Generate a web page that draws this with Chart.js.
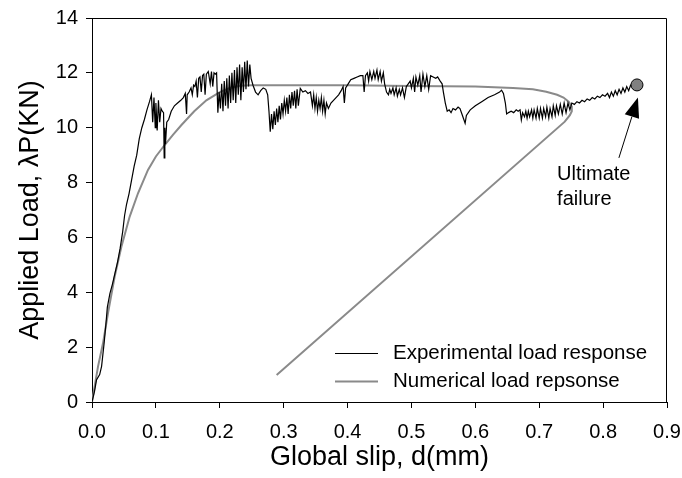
<!DOCTYPE html>
<html>
<head>
<meta charset="utf-8">
<script src="https://cdn.jsdelivr.net/npm/chart.js@4.4.0/dist/chart.umd.min.js"></script>
<style>
  html, body { margin: 0; padding: 0; background: #fff; }
  #wrap { width: 682px; height: 478px; }
</style>
</head>
<body>
<div id="wrap"><canvas id="slipChart" width="682" height="478"></canvas></div>
<script>
var expSlip = [0, 0.004, 0.007, 0.012, 0.015, 0.019, 0.022, 0.024, 0.028, 0.032, 0.036, 0.040, 0.044, 0.048, 0.051, 0.054, 0.058, 0.062, 0.066, 0.070, 0.074, 0.078, 0.082, 0.086, 0.090, 0.093,
  0.095, 0.097, 0.099, 0.100, 0.102, 0.104, 0.106, 0.108, 0.110, 0.112, 0.113, 0.114, 0.115, 0.117, 0.120, 0.124, 0.129, 0.134, 0.139, 0.143, 0.146, 0.148, 0.149, 0.152, 0.155, 0.157, 0.159, 0.161, 0.163, 0.165, 0.167, 0.169, 0.171, 0.173, 0.175, 0.177, 0.179, 0.182, 0.185, 0.187, 0.189, 0.191, 0.193, 0.195, 0.197,
  0.199, 0.201, 0.203, 0.205, 0.207, 0.209, 0.211, 0.213, 0.215, 0.217, 0.219, 0.221, 0.223, 0.225, 0.227, 0.229, 0.231, 0.233, 0.235, 0.237, 0.239, 0.241, 0.243, 0.245, 0.247, 0.249, 0.252, 0.256, 0.260, 0.264, 0.268, 0.272, 0.275, 0.277, 0.279,
  0.281, 0.283, 0.285, 0.287, 0.289, 0.291, 0.293, 0.295, 0.297, 0.299, 0.301, 0.303, 0.305, 0.307, 0.309, 0.311, 0.313, 0.315, 0.317, 0.319, 0.321, 0.323, 0.326, 0.330, 0.334, 0.338, 0.342,
  0.345, 0.347, 0.349, 0.351, 0.353, 0.355, 0.357, 0.359, 0.361, 0.363, 0.365, 0.367, 0.370, 0.374, 0.378, 0.382, 0.386, 0.390, 0.393, 0.395, 0.397, 0.401, 0.405, 0.410, 0.415, 0.420, 0.424, 0.426, 0.428,
  0.431, 0.433, 0.435, 0.438, 0.441, 0.443, 0.446, 0.448, 0.451, 0.453, 0.456, 0.458, 0.461, 0.464, 0.466, 0.468, 0.471, 0.473, 0.476, 0.478, 0.481, 0.483, 0.486, 0.489, 0.492, 0.495, 0.498,
  0.500, 0.503, 0.505, 0.507, 0.510, 0.513, 0.515, 0.518, 0.521, 0.524, 0.527, 0.530, 0.534, 0.538, 0.541, 0.545, 0.548, 0.550, 0.553, 0.556, 0.559, 0.562, 0.565, 0.569, 0.573, 0.576, 0.579, 0.582, 0.584, 0.586,
  0.592, 0.600, 0.610, 0.620, 0.630, 0.638, 0.641, 0.644, 0.647, 0.649, 0.652, 0.656, 0.660, 0.664, 0.667, 0.670, 0.672, 0.674, 0.677, 0.679, 0.681, 0.683, 0.685, 0.688, 0.690, 0.692, 0.695, 0.697,
  0.700, 0.702, 0.705, 0.707, 0.710, 0.712, 0.715, 0.717, 0.720, 0.722, 0.725, 0.727, 0.730, 0.733, 0.736, 0.739, 0.742, 0.745, 0.748, 0.751, 0.755, 0.759, 0.763, 0.767, 0.771, 0.775, 0.779,
  0.783, 0.787, 0.791, 0.795, 0.799, 0.803, 0.807, 0.810, 0.813, 0.816, 0.819, 0.822, 0.825, 0.828, 0.831, 0.834, 0.837, 0.840, 0.843, 0.847, 0.852];
var expLoad = [0, 0.4, 0.8, 1.0, 1.3, 2.15, 2.9, 3.45, 3.95, 4.3, 4.7, 5.1, 5.6, 6.2, 6.8, 7.2, 7.6, 8.1, 8.6, 9.0, 9.6, 10.0, 10.3, 10.65, 10.95, 11.2,
  10.2, 11.1, 10.0, 10.9, 9.9, 11.0, 10.2, 10.7, 10.6, 10.55, 8.9, 10.0, 9.4, 10.2, 10.3, 10.6, 10.8, 10.9, 11.0, 11.1, 11.25, 10.5, 11.2, 11.3, 11.45, 11.2, 11.55, 11.5, 11.7, 11.1, 11.8, 11.85, 11.3, 11.9, 11.95, 11.2, 11.95, 12.05, 11.6, 12.05, 11.5, 12.0, 11.95, 12.0, 10.55,
  11.3, 10.7, 11.6, 10.6, 11.7, 10.8, 11.8, 10.7, 11.9, 10.9, 12.0, 11.0, 12.1, 10.9, 12.2, 11.2, 12.3, 11.0, 12.2, 11.3, 12.4, 11.4, 12.45, 11.5, 12.3, 11.8, 11.55, 11.3, 11.2, 11.35, 11.45, 11.4, 11.2, 10.6, 9.85,
  10.5, 9.95, 10.6, 10.1, 10.7, 10.2, 10.8, 10.3, 10.9, 10.5, 11.0, 10.6, 11.1, 10.5, 11.2, 10.7, 11.3, 10.8, 11.35, 10.7, 11.4, 10.8, 11.43, 11.3, 11.35, 11.25, 11.3,
  10.8, 11.2, 10.7, 11.1, 10.6, 11.0, 10.7, 11.1, 10.6, 11.0, 10.5, 10.9, 10.7, 10.9, 11.0, 11.1, 11.2, 11.35, 11.5, 10.9, 11.45, 11.6, 11.75, 11.8, 11.85, 11.9, 11.9, 11.3, 11.9,
  12.0, 11.7, 12.05, 11.75, 12.05, 11.8, 12.1, 11.75, 12.05, 11.7, 12.0, 11.6, 11.3, 11.2, 11.4, 11.25, 11.45, 11.2, 11.45, 11.15, 11.4, 11.2, 11.45, 11.1, 11.5, 11.6, 11.7,
  11.45, 11.8, 11.3, 11.85, 11.55, 11.9, 11.3, 11.95, 11.5, 11.9, 11.4, 11.9, 11.85, 11.8, 11.85, 11.7, 11.6, 11.3, 10.9, 10.6, 10.65, 10.55, 10.7, 10.65, 10.75, 10.7, 10.5, 10.3, 10.16, 10.45,
  10.65, 10.8, 10.95, 11.1, 11.2, 11.3, 11.37, 11.25, 10.9, 10.5, 10.55, 10.6, 10.55, 10.65, 10.6, 10.65, 10.28, 10.55, 10.4, 10.6, 10.35, 10.6, 10.4, 10.65, 10.35, 10.65, 10.35, 10.7,
  10.35, 10.7, 10.35, 10.7, 10.4, 10.75, 10.35, 10.7, 10.4, 10.8, 10.45, 10.8, 10.5, 10.85, 10.5, 10.9, 10.55, 10.9, 10.65, 10.9, 10.85, 10.95, 10.9, 11.0, 10.95, 11.05, 11.0,
  11.1, 11.05, 11.15, 11.1, 11.2, 11.15, 11.25, 11.1, 11.3, 11.15, 11.35, 11.2, 11.4, 11.25, 11.45, 11.3, 11.5, 11.35, 11.55, 11.5, 11.56];

// numerical load response
var numSlip = [0, 0.0094, 0.0172, 0.025, 0.0355, 0.046, 0.059, 0.072, 0.0876, 0.1, 0.1137, 0.127, 0.14, 0.16, 0.179, 0.2, 0.216, 0.232, 0.25, 0.3, 0.4, 0.5, 0.6, 0.659, 0.69, 0.711, 0.728, 0.738, 0.746, 0.751, 0.751, 0.748, 0.74, 0.289];
var numLoad = [0, 1.29, 2.14, 3.23, 4.57, 5.66, 6.76, 7.61, 8.46, 8.95, 9.37, 9.75, 10.1, 10.6, 11.0, 11.3, 11.45, 11.53, 11.55, 11.55, 11.55, 11.52, 11.5, 11.45, 11.4, 11.31, 11.2, 11.1, 10.95, 10.77, 10.6, 10.46, 10.22, 0.98];

// ultimate failure point + arrow + note
var failurePoint = [0.853, 11.56];
var arrowTail = [0.8247, 8.9];
var arrowTip = [0.8545, 11.1];
var noteLines = ['Ultimate', 'failure'];
var notePos = [0.728, 8.28];

var xTicks = [0, 0.1, 0.2, 0.3, 0.4, 0.5, 0.6, 0.7, 0.8, 0.9];
var yTicks = [0, 2, 4, 6, 8, 10, 12, 14];

var FONT = "'Liberation Sans', Arial, Helvetica, sans-serif";

function pairs(xs, ys) {
  var out = [];
  for (var i = 0; i < xs.length; i++) out.push({x: xs[i], y: ys[i]});
  return out;
}

// frame on top/right + inner legend + annotation
var extras = {
  id: 'extras',
  afterDraw: function(chart) {
    var ctx = chart.ctx, a = chart.chartArea;
    var xs = chart.scales.x, ys = chart.scales.y;
    ctx.save();
    ctx.strokeStyle = '#000';
    ctx.lineWidth = 1;
    ctx.beginPath();
    ctx.moveTo(a.left, a.top + 0.5);
    ctx.lineTo(a.right - 0.5, a.top + 0.5);
    ctx.lineTo(a.right - 0.5, a.bottom);
    ctx.stroke();

    // legend
    var ds = chart.data.datasets;
    ctx.font = '20.5px ' + FONT;
    ctx.textBaseline = 'middle';
    ctx.textAlign = 'left';
    for (var i = 0; i < 2; i++) {
      var ly = 353 + i * 28;
      ctx.strokeStyle = ds[i].borderColor;
      ctx.lineWidth = ds[i].borderWidth;
      ctx.beginPath();
      ctx.moveTo(335, ly + 0.5);
      ctx.lineTo(378, ly + 0.5);
      ctx.stroke();
      ctx.fillStyle = '#000';
      ctx.fillText(ds[i].label, 393, ly);
    }

    // arrow
    var tx = xs.getPixelForValue(arrowTail[0]), ty = ys.getPixelForValue(arrowTail[1]);
    var hx = xs.getPixelForValue(arrowTip[0]), hy = ys.getPixelForValue(arrowTip[1]);
    var ang = Math.atan2(hy - ty, hx - tx);
    var hl = 20, hw = 7.5;
    var bx = hx - hl * Math.cos(ang), by = hy - hl * Math.sin(ang);
    ctx.strokeStyle = '#000';
    ctx.lineWidth = 1;
    ctx.beginPath();
    ctx.moveTo(tx, ty);
    ctx.lineTo(bx, by);
    ctx.stroke();
    ctx.fillStyle = '#000';
    ctx.beginPath();
    ctx.moveTo(hx, hy);
    ctx.lineTo(bx + hw * Math.sin(ang), by - hw * Math.cos(ang));
    ctx.lineTo(bx - hw * Math.sin(ang), by + hw * Math.cos(ang));
    ctx.closePath();
    ctx.fill();

    // note
    ctx.font = '20px ' + FONT;
    var nx = xs.getPixelForValue(notePos[0]), ny = ys.getPixelForValue(notePos[1]);
    for (var k = 0; k < noteLines.length; k++) {
      ctx.fillText(noteLines[k], nx, ny + k * 25);
    }
    ctx.restore();
  }
};

new Chart(document.getElementById('slipChart'), {
  type: 'scatter',
  data: {
    datasets: [{
      label: 'Experimental load response',
      data: pairs(expSlip, expLoad),
      showLine: true,
      borderColor: '#000000',
      borderWidth: 1.2,
      pointRadius: 0,
      tension: 0,
      order: 1
    }, {
      label: 'Numerical load repsonse',
      data: pairs(numSlip, numLoad),
      showLine: true,
      borderColor: '#8a8a8a',
      borderWidth: 2,
      pointRadius: 0,
      tension: 0,
      order: 2
    }, {
      label: 'failure',
      data: [{x: failurePoint[0], y: failurePoint[1]}],
      pointRadius: 6,
      pointBackgroundColor: '#808080',
      pointBorderColor: '#000',
      pointBorderWidth: 1,
      order: 0
    }]
  },
  options: {
    responsive: false,
    animation: false,
    layout: { padding: { top: 18, right: 15, left: 0, bottom: 0 } },
    plugins: {
      legend: { display: false },
      tooltip: { enabled: false }
    },
    scales: {
      x: {
        type: 'linear',
        min: 0, max: 0.9,
        afterFit: function(s) { s.height = 76; s.paddingLeft = 0; s.paddingRight = 0; },
        afterBuildTicks: function(s) { s.ticks = xTicks.map(function(v) { return {value: v}; }); },
        ticks: {
          color: '#000', padding: 12,
          font: { family: FONT, size: 20 },
          callback: function(v) { return v.toFixed(1); }
        },
        grid: { drawOnChartArea: false, drawTicks: true, tickLength: 6, color: '#000' },
        border: { color: '#000', width: 1 },
        title: { display: true, text: 'Global slip, d(mm)', color: '#000', font: { family: FONT, size: 27 }, padding: { top: 0, bottom: 4 } }
      },
      y: {
        type: 'linear',
        min: 0, max: 14,
        afterFit: function(s) { s.width = 92; s.paddingTop = 0; s.paddingBottom = 0; },
        afterBuildTicks: function(s) { s.ticks = yTicks.map(function(v) { return {value: v}; }); },
        ticks: {
          color: '#000', padding: 8,
          font: { family: FONT, size: 20 }
        },
        grid: { drawOnChartArea: false, drawTicks: true, tickLength: 6, color: '#000' },
        border: { color: '#000', width: 1 },
        title: { display: true, text: 'Applied Load, \u03bbP(KN)', color: '#000', font: { family: FONT, size: 27 }, padding: { top: 14, bottom: 0 } }
      }
    }
  },
  plugins: [extras]
});
</script>
</body>
</html>
